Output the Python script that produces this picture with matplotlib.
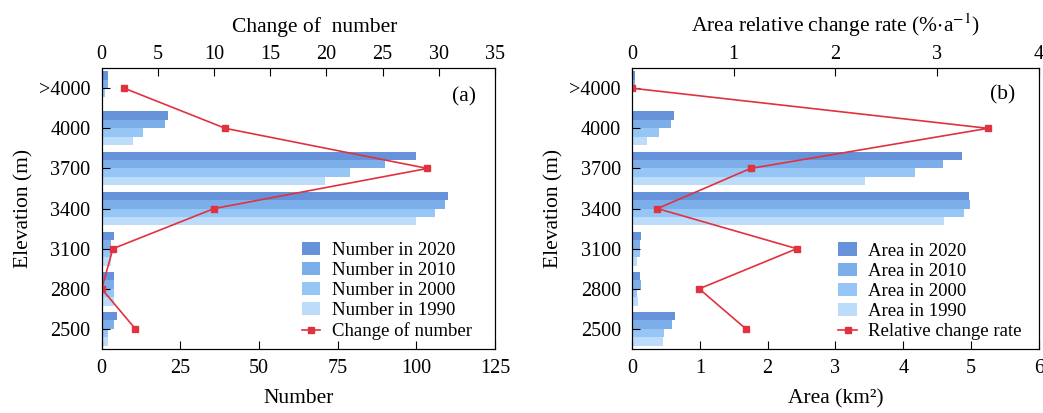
import numpy as np
import matplotlib.pyplot as plt
from matplotlib.ticker import MultipleLocator

plt.rcParams['font.family'] = ['Liberation Serif', 'DejaVu Serif']
plt.rcParams['font.size'] = 14.5
plt.rcParams['mathtext.fontset'] = 'stix'

elev = ['2500', '2800', '3100', '3400', '3700', '4000', '>4000']
years = ['2020', '2010', '2000', '1990']

# glacier counts per elevation band
num_2020 = [5, 4, 4, 110, 100, 21, 2]
num_2010 = [4, 4, 3, 109, 90, 20, 2]
num_2000 = [2, 4, 3, 106, 79, 13, 1]
num_1990 = [2, 4, 3, 100, 71, 10, 0]
num_change = [3, 0, 1, 10, 29, 11, 2]

# glacier area (km2) per elevation band
area_2020 = [0.63, 0.11, 0.13, 4.97, 4.86, 0.62, 0.04]
area_2010 = [0.59, 0.13, 0.12, 4.99, 4.59, 0.57, 0.04]
area_2000 = [0.47, 0.08, 0.11, 4.90, 4.18, 0.40, 0.02]
area_1990 = [0.45, 0.09, 0.08, 4.60, 3.43, 0.22, 0.01]
area_rate = [1.12, 0.66, 1.62, 0.25, 1.165, 3.50, 0.0]

colors = ['#6592d8', '#7cafea', '#96c6f5', '#bddcfa']
red = '#e0323f'

fig = plt.figure(figsize=(10.43, 4.13), dpi=100)
ax1 = fig.add_axes([0.0975, 0.155, 0.377, 0.68])
ax2 = fig.add_axes([0.606, 0.155, 0.39, 0.68])

y = np.arange(len(elev))
h = 0.21
offs = np.array([1.5, 0.5, -0.5, -1.5]) * h


def panel(ax, series, label_fmt, change, change_label, xlim, xstep, top_lim, top_step,
          xlabel, toplabel, top_x, tag, tag_xy, leg_x):
    for i, (vals, c) in enumerate(zip(series, colors)):
        ax.barh(y + offs[i], vals, height=h, color=c, label=label_fmt % years[i])
    ax.set_xlim(*xlim)
    ax.set_ylim(-0.5, 6.5)
    ax.set_yticks(y)
    ax.set_yticklabels(elev)
    ax.xaxis.set_major_locator(MultipleLocator(xstep))
    ax.set_xlabel(xlabel, fontsize=15.5, labelpad=8)
    ax.set_ylabel('Elevation (m)', fontsize=15.5, labelpad=4)
    ax.tick_params(axis='x', direction='in', length=6, pad=7)
    ax.tick_params(axis='y', direction='in', length=6, pad=8)
    ax.text(tag_xy[0], tag_xy[1], tag, transform=ax.transAxes,
            ha='center', va='center', fontsize=15.5)

    tw = ax.twiny()
    tw.plot(change, y, color=red, lw=1.2, marker='s', ms=4.5, label=change_label)
    tw.set_xlim(*top_lim)
    tw.xaxis.set_major_locator(MultipleLocator(top_step))
    tw.set_xlabel(toplabel, fontsize=15.5, labelpad=9)
    tw.xaxis.label.set_x(top_x)
    tw.tick_params(direction='in', length=6, pad=3)

    hb, lb = ax.get_legend_handles_labels()
    hl, ll = tw.get_legend_handles_labels()
    tw.legend(hb + hl, lb + ll, loc='lower right', bbox_to_anchor=(leg_x, 0.005),
              frameon=False, fontsize=13.5, handlelength=1.0, handleheight=0.7,
              labelspacing=0.16, borderaxespad=0, handletextpad=0.6)


panel(ax1, [num_2020, num_2010, num_2000, num_1990], 'Number in %s',
      num_change, 'Change of number', (0, 125), 25, (0, 35), 5,
      'Number', 'Change of  number', 0.542, '(a)', (0.921, 0.897), 0.96)
panel(ax2, [area_2020, area_2010, area_2000, area_1990], 'Area in %s',
      area_rate, 'Relative change rate', (0, 6), 1, (0, 4), 1,
      'Area (km²)', 'Area relative change rate (%$\\cdot$a$^{-1}$)', 0.5,
      '(b)', (0.911, 0.904), 0.977)

fig.savefig('out.png', dpi=100)
